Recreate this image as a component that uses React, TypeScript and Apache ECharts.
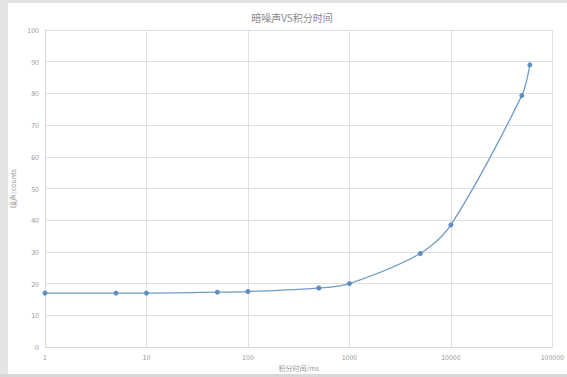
import React, { useEffect, useRef } from "react";
import * as echarts from "echarts";

const integrationTimes = [1, 5, 10, 50, 100, 500, 1000, 5000, 10000, 50000, 60000];
const darkNoise = [17, 17, 17, 17.3, 17.5, 18.6, 20, 29.5, 38.5, 79.3, 89];
const titleText = "暗噪声VS积分时间";
const xName = "积分时间/ms";
const yName = "噪声/counts";

export default function App() {
  const ref = useRef<HTMLDivElement>(null);
  useEffect(() => {
    if (!ref.current) return;
    const chart = echarts.init(ref.current, null, { renderer: "svg" });
    const labelStyle = { color: "#999999", fontSize: 7, fontFamily: "Noto Sans CJK SC" };
    chart.setOption({
      animation: false,
      backgroundColor: "#ffffff",
      title: {
        text: titleText,
        left: 287,
        textAlign: "center",
        top: 7,
        textStyle: { color: "#8a8a8a", fontSize: 10, fontWeight: "normal", fontFamily: "Noto Sans CJK SC" },
      },
      graphic: [
        { type: "rect", left: 0, top: 0, shape: { width: 8, height: 377 }, style: { fill: "#e4e4e4" } },
        { type: "rect", left: 0, top: 0, shape: { width: 567, height: 3 }, style: { fill: "#e4e4e4" } },
        { type: "rect", left: 0, top: 374, shape: { width: 567, height: 3 }, style: { fill: "#d8d8d8" } },
      ],
      grid: { left: 45, right: 14, top: 30, bottom: 30, containLabel: false },
      xAxis: {
        type: "log",
        logBase: 10,
        min: 1,
        max: 100000,
        name: xName,
        nameLocation: "middle",
        nameGap: 16,
        nameTextStyle: { ...labelStyle },
        axisLine: { show: true, lineStyle: { color: "#d9d9d9" } },
        axisTick: { show: false },
        axisLabel: { ...labelStyle, margin: 6, formatter: (v: number) => String(Math.round(v)) },
        splitLine: { show: true, lineStyle: { color: "#e0e0e0" } },
        minorTick: { show: false },
      },
      yAxis: {
        type: "value",
        min: 0,
        max: 100,
        interval: 10,
        name: yName,
        nameLocation: "middle",
        nameGap: 22,
        nameTextStyle: { ...labelStyle },
        axisLine: { show: true, lineStyle: { color: "#d9d9d9" } },
        axisTick: { show: false },
        axisLabel: { ...labelStyle, margin: 6 },
        splitLine: { show: true, lineStyle: { color: "#e0e0e0" } },
      },
      series: [
        {
          type: "line",
          data: integrationTimes.map((t, i) => [t, darkNoise[i]]),
          smooth: 0.3,
          symbol: "circle",
          symbolSize: 5,
          lineStyle: { color: "#6f9ccb", width: 1.3 },
          itemStyle: { color: "#5f8ec0" },
        },
      ],
    });
    return () => chart.dispose();
  }, []);
  return (
    <div
      ref={ref}
      style={{ position: "fixed", left: 0, top: 0, width: 567, height: 377 }}
    />
  );
}
